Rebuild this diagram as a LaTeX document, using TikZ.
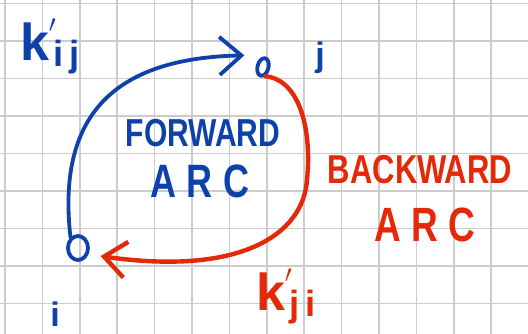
\documentclass[tikz,border=0pt]{standalone}
\usepackage{amsmath}
\usepackage{fontspec}
\setmainfont{Liberation Sans}
\setsansfont{Liberation Sans}
\usepackage{tikz}
\usetikzlibrary{arrows.meta,shapes}
\definecolor{penblue}{RGB}{14,66,170}
\definecolor{penred}{RGB}{228,40,8}
\newcommand{\tallword}[1]{\scalebox{1}[1.3]{#1}}

\begin{document}
\begin{tikzpicture}[x=1pt, y=-1pt, every node/.style={align=center, inner sep=0pt},
    pen/.style={line width=3.8pt, line cap=round, line join=round},
    vertex/.style={draw, ellipse, pen, penblue},
    hand/.style={font=\fontsize{#1}{#1}\selectfont\bfseries},
    spaced/.style={font=\fontsize{#1}{#1}\selectfont\bfseries\addfontfeatures{LetterSpace=28}}]
    \useasboundingbox (0,0) rectangle (528,334);
    \fill[white] (0,0) rectangle (528,334);
    % squared paper
    \foreach \k in {0,...,14} \draw[gray!40, line width=1.6pt] (5+37.4*\k,0) -- (5+37.4*\k,334);
    \foreach \k in {0,...,9} \draw[gray!40, line width=1.6pt] (0,3.5+37.5*\k) -- (528,3.5+37.5*\k);
    % the two vertices
    \node[vertex, minimum width=20pt, minimum height=24pt] (i) at (78,248) {};
    \node[vertex, minimum width=11pt, minimum height=18pt, rotate=-15] (j) at (263,67) {};
    \node[penblue, hand=34] (li) at (55,314) {i};
    \node[penblue, hand=34] (lj) at (320,58) {j};
    % labels
    \node[penblue, hand=52] (kij) at (50,46) {$\textbf{k}'_{\,\textbf{i\,j}}$};
    \node[penblue, hand=30] (fw) at (203,133) {\tallword{FORWARD}};
    \node[penblue, spaced=36] (fa) at (200,181) {\tallword{ARC}};
    \node[penred, hand=31] (bw) at (420,170) {\tallword{BACKWARD}};
    \node[penred, spaced=37] (ba) at (425,225) {\tallword{ARC}};
    \node[penred, hand=52] (kji) at (286,296) {$\textbf{k}'_{\,\textbf{j\,i}}$};
    % arcs
    \draw[pen, penblue, -{Straight Barb[length=22pt, width=38pt]}] (i.125) .. controls (56,110) and (120,58) .. ([shift={(-13,-6)}]j.150);
    \draw[pen, penred, line width=4.4pt, -{Straight Barb[length=22pt, width=36pt]}] (j.-60) .. controls (300,80) and (312,130) .. (307,180)
        .. controls (303,235) and (240,276) .. ([shift={(11,5)}]i.-15);
\end{tikzpicture}
\end{document}
